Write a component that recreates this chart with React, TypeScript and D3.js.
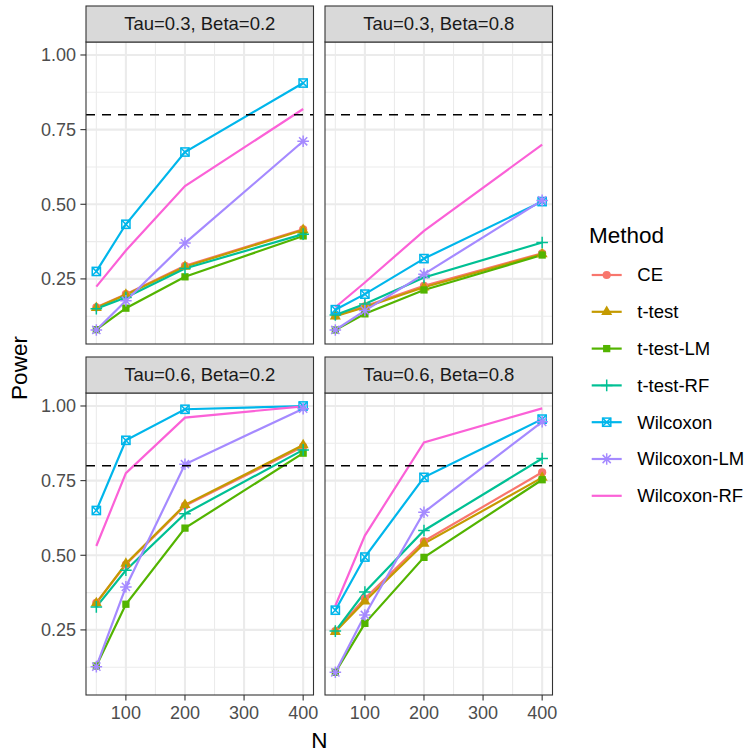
import React from "react";
import * as d3 from "d3";

const sampleSizes = [50, 100, 200, 400];
const methods = ["CE", "t-test", "t-test-LM", "t-test-RF", "Wilcoxon", "Wilcoxon-LM", "Wilcoxon-RF"];
const methodColors = ["#F8766D", "#C49A00", "#53B400", "#00C094", "#00B6EB", "#A58AFF", "#FB61D7"];
const methodShapes = ["circle", "triangle", "square", "plus", "squarecross", "asterisk", "none"];
const panelTitles = ["Tau=0.3, Beta=0.2", "Tau=0.3, Beta=0.8", "Tau=0.6, Beta=0.2", "Tau=0.6, Beta=0.8"];
const xTicks = [100, 200, 300, 400];
const xMinor = [50, 150, 250, 350];
const yTicks = [0.25, 0.5, 0.75, 1.0];
const yMinor = [0.125, 0.375, 0.625, 0.875];
const targetPower = 0.8;

// rows follow `methods` order; columns follow `sampleSizes`
const powerTau03Beta02 = [
  [0.155, 0.199, 0.294, 0.416],
  [0.153, 0.197, 0.291, 0.414],
  [0.080, 0.152, 0.257, 0.394],
  [0.150, 0.188, 0.285, 0.400],
  [0.275, 0.433, 0.675, 0.906],
  [0.079, 0.177, 0.370, 0.711],
  [0.224, 0.345, 0.561, 0.819],
];
const powerTau03Beta08 = [
  [0.127, 0.158, 0.227, 0.336],
  [0.125, 0.155, 0.222, 0.333],
  [0.079, 0.133, 0.213, 0.330],
  [0.129, 0.166, 0.255, 0.372],
  [0.147, 0.199, 0.318, 0.509],
  [0.079, 0.144, 0.266, 0.513],
  [0.155, 0.238, 0.411, 0.700],
];
const powerTau06Beta02 = [
  [0.341, 0.469, 0.666, 0.864],
  [0.340, 0.472, 0.669, 0.869],
  [0.129, 0.336, 0.591, 0.842],
  [0.327, 0.450, 0.639, 0.853],
  [0.650, 0.885, 0.989, 1.000],
  [0.127, 0.394, 0.805, 0.991],
  [0.531, 0.775, 0.961, 0.999],
];
const powerTau06Beta08 = [
  [0.246, 0.355, 0.547, 0.778],
  [0.244, 0.346, 0.539, 0.760],
  [0.108, 0.272, 0.493, 0.753],
  [0.246, 0.377, 0.583, 0.824],
  [0.316, 0.494, 0.761, 0.956],
  [0.108, 0.300, 0.644, 0.947],
  [0.331, 0.566, 0.878, 0.992],
];
const panelData = [powerTau03Beta02, powerTau03Beta08, powerTau06Beta02, powerTau06Beta08];

const FONT = "'Liberation Sans', Arial, Helvetica, sans-serif";
const W = 747;
const H = 752;
const colX = [[86, 313.5], [325, 552.5]];
const rowY = [[42, 344], [393, 695]];
const stripH = 36;
const R = 4.1;

function Symbol({ shape, x, y, color }: { shape: string; x: number; y: number; color: string }) {
  const sw = 1.5;
  if (shape === "circle") return <circle cx={x} cy={y} r={R} fill={color} />;
  if (shape === "triangle") {
    const r = 1.555 * R;
    const pts = [[x, y - r], [x + (r * Math.sqrt(3)) / 2, y + r / 2], [x - (r * Math.sqrt(3)) / 2, y + r / 2]];
    return <polygon points={pts.map((p) => p.join(",")).join(" ")} fill={color} />;
  }
  if (shape === "square") {
    const h = R * 0.886;
    return <rect x={x - h} y={y - h} width={2 * h} height={2 * h} fill={color} />;
  }
  if (shape === "plus") {
    const a = Math.SQRT2 * R;
    return (
      <path d={`M${x - a},${y}H${x + a}M${x},${y - a}V${y + a}`} stroke={color} strokeWidth={sw} fill="none" />
    );
  }
  if (shape === "squarecross") {
    const h = R;
    return (
      <g stroke={color} strokeWidth={sw} fill="none">
        <rect x={x - h} y={y - h} width={2 * h} height={2 * h} />
        <path d={`M${x - h},${y - h}L${x + h},${y + h}M${x - h},${y + h}L${x + h},${y - h}`} />
      </g>
    );
  }
  if (shape === "asterisk") {
    const a = Math.SQRT2 * R;
    const b = R;
    return (
      <path
        d={`M${x - a},${y}H${x + a}M${x},${y - a}V${y + a}M${x - b},${y - b}L${x + b},${y + b}M${x - b},${y + b}L${x + b},${y - b}`}
        stroke={color}
        strokeWidth={sw}
        fill="none"
      />
    );
  }
  return null;
}

function Panel({ idx }: { idx: number }) {
  const col = idx % 2;
  const row = Math.floor(idx / 2);
  const [x0, x1] = colX[col];
  const [y0, y1] = rowY[row];
  const x = d3.scaleLinear().domain([32.5, 417.5]).range([x0, x1]);
  const y = d3.scaleLinear().domain([0.032, 1.0435]).range([y1, y0]);
  const line = d3
    .line<number>()
    .x((_, i) => x(sampleSizes[i]))
    .y((d) => y(d));
  const data = panelData[idx];
  return (
    <g>
      <rect x={x0} y={y0} width={x1 - x0} height={y1 - y0} fill="#FFFFFF" />
      {xMinor.map((t) => (
        <line key={"xm" + t} x1={x(t)} x2={x(t)} y1={y0} y2={y1} stroke="#EBEBEB" strokeWidth={1.1} />
      ))}
      {yMinor.map((t) => (
        <line key={"ym" + t} x1={x0} x2={x1} y1={y(t)} y2={y(t)} stroke="#EBEBEB" strokeWidth={1.1} />
      ))}
      {xTicks.map((t) => (
        <line key={"xM" + t} x1={x(t)} x2={x(t)} y1={y0} y2={y1} stroke="#EBEBEB" strokeWidth={2.1} />
      ))}
      {yTicks.map((t) => (
        <line key={"yM" + t} x1={x0} x2={x1} y1={y(t)} y2={y(t)} stroke="#EBEBEB" strokeWidth={2.1} />
      ))}
      {data.map((vals, m) => (
        <path key={"l" + m} d={line(vals) || ""} fill="none" stroke={methodColors[m]} strokeWidth={2.2} />
      ))}
      {data.map((vals, m) =>
        vals.map((v, i) => (
          <Symbol key={"p" + m + "-" + i} shape={methodShapes[m]} x={x(sampleSizes[i])} y={y(v)} color={methodColors[m]} />
        ))
      )}
      <line
        x1={x0}
        x2={x1}
        y1={y(targetPower)}
        y2={y(targetPower)}
        stroke="#000000"
        strokeWidth={1.5}
        strokeDasharray="9,7"
      />
      <rect x={x0} y={y0} width={x1 - x0} height={y1 - y0} fill="none" stroke="#333333" strokeWidth={1.1} />
      {/* strip */}
      <rect x={x0} y={y0 - stripH} width={x1 - x0} height={stripH} fill="#D9D9D9" stroke="#333333" strokeWidth={1.1} />
      <text
        x={(x0 + x1) / 2}
        y={y0 - stripH / 2}
        dy="0.35em"
        textAnchor="middle"
        fontFamily={FONT}
        fontSize={18.5}
        fill="#1A1A1A"
      >
        {panelTitles[idx]}
      </text>
      {/* y axis on left column */}
      {col === 0 &&
        yTicks.map((t) => (
          <g key={"yt" + t}>
            <line x1={x0 - 5.6} x2={x0} y1={y(t)} y2={y(t)} stroke="#333333" strokeWidth={1.1} />
            <text x={x0 - 10} y={y(t)} dy="0.35em" textAnchor="end" fontFamily={FONT} fontSize={18} fill="#4D4D4D">
              {d3.format(".2f")(t)}
            </text>
          </g>
        ))}
      {row === 1 &&
        xTicks.map((t) => (
          <g key={"xt" + t}>
            <line x1={x(t)} x2={x(t)} y1={y1} y2={y1 + 5.6} stroke="#333333" strokeWidth={1.1} />
            <text x={x(t)} y={y1 + 10} dy="0.76em" textAnchor="middle" fontFamily={FONT} fontSize={18} fill="#4D4D4D">
              {t}
            </text>
          </g>
        ))}
    </g>
  );
}

export default function App() {
  const keyY0 = 275;
  const keyStep = 36.8;
  return (
    <div style={{ position: "absolute", left: 0, top: 0 }}>
      <svg width={W} height={H} style={{ display: "block" }}>
        <rect x={0} y={0} width={W} height={H} fill="#FFFFFF" />
        {panelTitles.map((_, i) => (
          <Panel key={i} idx={i} />
        ))}
        <text
          x={(colX[0][0] + colX[1][1]) / 2}
          y={748}
          textAnchor="middle"
          fontFamily={FONT}
          fontSize={22.5}
          fill="#000000"
        >
          N
        </text>
        <text
          transform={`translate(27,368) rotate(-90)`}
          textAnchor="middle"
          fontFamily={FONT}
          fontSize={22.5}
          fill="#000000"
        >
          Power
        </text>
        <text x={589} y={243} fontFamily={FONT} fontSize={22.5} fill="#000000">
          Method
        </text>
        {methods.map((m, i) => {
          const cy = keyY0 + i * keyStep;
          return (
            <g key={m}>
              <line x1={591.7} x2={621.7} y1={cy} y2={cy} stroke={methodColors[i]} strokeWidth={2.2} />
              <Symbol shape={methodShapes[i]} x={606.7} y={cy} color={methodColors[i]} />
              <text x={637.3} y={cy} dy="0.35em" fontFamily={FONT} fontSize={18.5} fill="#000000">
                {m}
              </text>
            </g>
          );
        })}
      </svg>
    </div>
  );
}
